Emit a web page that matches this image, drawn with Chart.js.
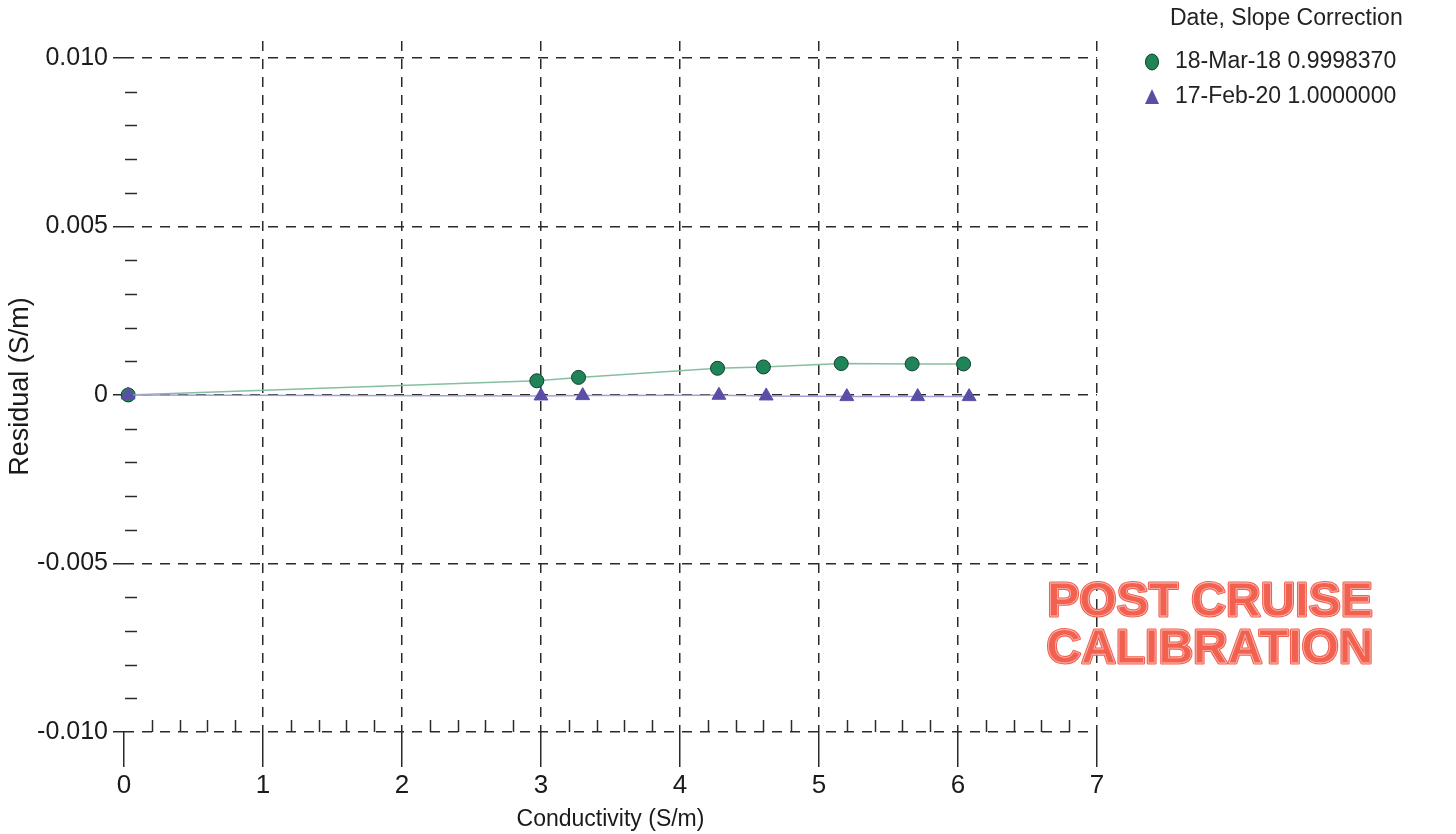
<!DOCTYPE html>
<html lang="en">
  <head>
    <meta charset="UTF-8" />
    <title>Conductivity Residual</title>
    <script src="https://cdn.jsdelivr.net/npm/chart.js"></script>
    <style>
      body {
        margin: 0;
        padding: 0;
        background: #ffffff;
        font-family: "Liberation Sans", Arial, sans-serif;
      }
      .chart-box {
        position: relative;
        width: 1456px;
        height: 834px;
      }
    </style>
  </head>
  <body>
    <div class="chart-box">
      <canvas id="residualChart"></canvas>
    </div>

    <script>
      // valores
      const legendTitle = "Date, Slope Correction";
      const seriesNames = ["18-Mar-18 0.9998370", "17-Feb-20 1.0000000"];

      const marchX = [0.03, 2.97, 3.27, 4.27, 4.6, 5.16, 5.67, 6.04];
      const marchY = [0, 0.00042, 0.00052, 0.00079, 0.00083, 0.00093, 0.00092, 0.00092];

      const febX = [0.03, 3.0, 3.3, 4.28, 4.62, 5.2, 5.71, 6.08];
      const febY = [0, -0.00003, -0.00002, -0.00001, -0.00003, -0.00005, -0.00005, -0.00005];

      const xTicks = [0, 1, 2, 3, 4, 5, 6, 7];
      const yTicks = [-0.01, -0.005, 0, 0.005, 0.01];
      const yTickLabels = ["-0.010", "-0.005", "0", "0.005", "0.010"];

      const stampLines = ["POST CRUISE", "CALIBRATION"];

      const GREEN_FILL = "#1f8458";
      const GREEN_LINE = "#86bfa0";
      const PURPLE_FILL = "#5a4fa6";
      const PURPLE_LINE = "#a49fd6";
      const GRID = "#2a2a2a";

      function toPoints(xs, ys) {
        return xs.map((x, i) => ({ x: x, y: ys[i] }));
      }

      function isMajorY(v) {
        return yTicks.some((t) => Math.abs(t - v) < 1e-9);
      }

      // ticks menores + legenda + carimbo
      const extrasPlugin = {
        id: "extras",
        afterDraw(chart) {
          const ctx = chart.ctx;
          const xs = chart.scales.x;
          const ys = chart.scales.y;
          const area = chart.chartArea;

          ctx.save();
          ctx.strokeStyle = GRID;
          ctx.lineWidth = 1.5;
          ctx.setLineDash([]);

          // minor y ticks (a cada 0.001)
          for (let k = -10; k <= 10; k++) {
            const v = k / 1000;
            if (isMajorY(v)) continue;
            const py = Math.round(ys.getPixelForValue(v)) + 0.5;
            ctx.beginPath();
            ctx.moveTo(area.left + 1, py);
            ctx.lineTo(area.left + 13, py);
            ctx.stroke();
          }

          // minor x ticks (a cada 0.2)
          const bottom = ys.getPixelForValue(-0.01);
          for (let k = 0; k <= 35; k++) {
            if (k % 5 === 0) continue;
            const px = Math.round(xs.getPixelForValue(k / 5)) + 0.5;
            ctx.beginPath();
            ctx.moveTo(px, bottom);
            ctx.lineTo(px, bottom - 12);
            ctx.stroke();
          }

          // legenda
          ctx.fillStyle = "#222";
          ctx.font = "23px 'Liberation Sans', Arial, sans-serif";
          ctx.textBaseline = "middle";
          ctx.textAlign = "left";
          ctx.fillText(legendTitle, 1170, 19);

          ctx.fillText(seriesNames[0], 1175, 62);
          ctx.beginPath();
          ctx.ellipse(1152, 62, 6.5, 8, 0, 0, Math.PI * 2);
          ctx.fillStyle = GREEN_FILL;
          ctx.fill();
          ctx.strokeStyle = "#0f3d28";
          ctx.lineWidth = 1;
          ctx.stroke();

          ctx.fillStyle = "#222";
          ctx.fillText(seriesNames[1], 1175, 97);
          ctx.beginPath();
          ctx.moveTo(1152, 89);
          ctx.lineTo(1159, 104);
          ctx.lineTo(1145, 104);
          ctx.closePath();
          ctx.fillStyle = PURPLE_FILL;
          ctx.fill();

          // carimbo
          ctx.font = "bold 48px 'Liberation Sans', Arial, sans-serif";
          ctx.textAlign = "center";
          ctx.lineJoin = "round";
          const cx = 1210;
          const lineY = [603, 650];
          stampLines.forEach((txt, i) => {
            ctx.lineWidth = 3;
            ctx.strokeStyle = "#f26150";
            ctx.strokeText(txt, cx, lineY[i]);
            ctx.fillStyle = "#f26150";
            ctx.fillText(txt, cx, lineY[i]);
            ctx.lineWidth = 0.8;
            ctx.strokeStyle = "rgba(255,255,255,0.55)";
            ctx.strokeText(txt, cx, lineY[i]);
          });

          ctx.restore();
        },
      };

      const ctxResidual = document.getElementById("residualChart");
      new Chart(ctxResidual, {
        type: "line",
        data: {
          datasets: [
            {
              label: seriesNames[0],
              data: toPoints(marchX, marchY),
              borderColor: GREEN_LINE,
              borderWidth: 1.5,
              backgroundColor: GREEN_FILL,
              pointStyle: "circle",
              pointRadius: 7,
              pointBorderColor: "#113f2b",
              pointBorderWidth: 1,
              tension: 0,
              clip: false,
              order: 2,
            },
            {
              label: seriesNames[1],
              data: toPoints(febX, febY),
              borderColor: PURPLE_LINE,
              borderWidth: 1.5,
              backgroundColor: PURPLE_FILL,
              pointStyle: "triangle",
              pointRadius: 8,
              pointBorderColor: PURPLE_FILL,
              pointBorderWidth: 1,
              tension: 0,
              clip: false,
              order: 1,
            },
          ],
        },
        options: {
          responsive: true,
          maintainAspectRatio: false,
          animation: false,
          layout: {
            padding: { top: 41, right: 359, bottom: 0, left: 0 },
          },
          plugins: {
            legend: { display: false },
            tooltip: { enabled: false },
          },
          scales: {
            x: {
              type: "linear",
              min: 0,
              max: 7,
              afterFit(scale) {
                scale.height = 102;
              },
              afterBuildTicks(scale) {
                scale.ticks = xTicks.map((v) => ({ value: v }));
              },
              ticks: {
                color: "#1a1a1a",
                padding: 3,
                font: { size: 26, family: "'Liberation Sans', Arial, sans-serif" },
                maxRotation: 0,
              },
              grid: {
                color: (c) => (c.tick && c.tick.value === 0 ? "rgba(0,0,0,0)" : GRID),
                lineWidth: 1.5,
                borderDash: [10, 8],
                tickColor: GRID,
                tickLength: 35,
                tickWidth: 1.5,
                tickBorderDash: [],
              },
              border: { display: false, dash: [10, 8] },
              title: {
                display: true,
                text: "Conductivity (S/m)",
                color: "#1a1a1a",
                font: { size: 23, family: "'Liberation Sans', Arial, sans-serif" },
                padding: { top: 0, bottom: 1 },
              },
            },
            y: {
              type: "linear",
              min: -0.01,
              max: 0.0105,
              afterFit(scale) {
                scale.width = 124;
              },
              afterBuildTicks(scale) {
                scale.ticks = yTicks.map((v) => ({ value: v }));
              },
              ticks: {
                color: "#1a1a1a",
                padding: 5,
                font: { size: 25, family: "'Liberation Sans', Arial, sans-serif" },
                callback: (v) => {
                  const i = yTicks.findIndex((t) => Math.abs(t - v) < 1e-9);
                  return i >= 0 ? yTickLabels[i] : "";
                },
              },
              grid: {
                color: GRID,
                lineWidth: 1.5,
                borderDash: [10, 8],
                tickColor: GRID,
                tickLength: 11,
                tickWidth: 1.5,
                tickBorderDash: [],
              },
              border: { display: false, dash: [10, 8] },
              title: {
                display: true,
                text: "Residual (S/m)",
                color: "#1a1a1a",
                font: { size: 27, family: "'Liberation Sans', Arial, sans-serif" },
                padding: { top: 4, bottom: 0 },
              },
            },
          },
        },
        plugins: [extrasPlugin],
      });
    </script>
  </body>
</html>
